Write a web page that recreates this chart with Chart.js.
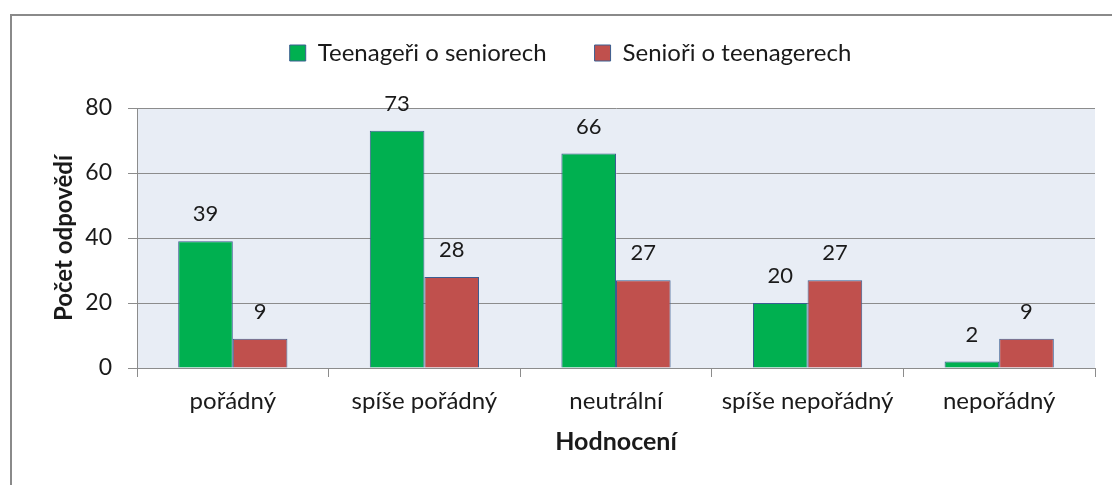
<!DOCTYPE html>
<html>
<head>
<meta charset="utf-8">
<script src="https://cdn.jsdelivr.net/npm/chart.js@4.4.1/dist/chart.umd.min.js"></script>
<style>
  html, body { margin:0; padding:0; background:#fff; overflow:hidden; width:1112px; height:485px; }
  #frame { position:absolute; left:10px; top:14px; width:1200px; height:600px; border:2px solid #8a8a8a; box-sizing:border-box; }
  #wrap { position:absolute; left:0; top:0; width:1112px; height:485px; }
</style>
</head>
<body>
<div id="frame"></div>
<div id="wrap"><canvas id="c" width="1112" height="485"></canvas></div>
<script>
const categories = ['pořádný', 'spíše pořádný', 'neutrální', 'spíše nepořádný', 'nepořádný'];
const teenSeries = [39, 73, 66, 20, 2];
const seniorSeries = [9, 28, 27, 27, 9];
const seriesNames = ['Teenageři o seniorech', 'Senioři o teenagerech'];
const yTicks = [0, 20, 40, 60, 80];

const FONT = 'Lato, "Open Sans", sans-serif';
const TXT = '#1a1a1a';

const plotBg = {
  id: 'plotBg',
  beforeDraw(chart) {
    const a = chart.chartArea, ctx = chart.ctx;
    ctx.save();
    ctx.fillStyle = '#e8edf5';
    ctx.fillRect(a.left, a.top, a.right - a.left, a.bottom - a.top);
    ctx.restore();
  }
};

const legendFit = {
  id: 'legendFit',
  beforeInit(chart) {
    const lg = chart.legend;
    const orig = lg.fit;
    lg.fit = function () { orig.call(this); this.height = 108; };
  },
  afterLayout(chart) {
    const lg = chart.legend;
    lg.left += 23; lg.right += 23;
    lg.top -= 7; lg.bottom -= 7;
  }
};

const valueLabels = {
  id: 'valueLabels',
  afterDatasetsDraw(chart) {
    const ctx = chart.ctx;
    ctx.save();
    ctx.font = '22px ' + FONT;
    ctx.fillStyle = TXT;
    ctx.textAlign = 'center';
    ctx.textBaseline = 'middle';
    chart.data.datasets.forEach((ds, i) => {
      chart.getDatasetMeta(i).data.forEach((bar, j) => {
        ctx.fillText(String(ds.data[j]), bar.x, bar.y - 27);
      });
    });
    ctx.restore();
  }
};

new Chart(document.getElementById('c'), {
  type: 'bar',
  data: {
    labels: categories,
    datasets: [
      { label: seriesNames[0], data: teenSeries, backgroundColor: '#00b050', borderColor: '#3b5e91', borderWidth: 1 },
      { label: seriesNames[1], data: seniorSeries, backgroundColor: '#c0504d', borderColor: '#3b5e91', borderWidth: 1 }
    ]
  },
  options: {
    responsive: false,
    animation: false,
    devicePixelRatio: 1,
    layout: { padding: { left: 0, right: 17, top: 0, bottom: 0 } },
    datasets: { bar: { categoryPercentage: 0.57, barPercentage: 1.0 } },
    plugins: {
      legend: {
        position: 'top',
        labels: {
          font: { family: FONT, size: 24 },
          color: TXT,
          boxWidth: 16,
          boxHeight: 16,
          padding: 48
        }
      },
      tooltip: { enabled: false }
    },
    scales: {
      x: {
        offset: true,
        grid: { display: true, offset: true, drawOnChartArea: false, drawTicks: true, tickLength: 9, color: '#8c8c8c' },
        border: { color: '#8c8c8c' },
        ticks: { font: { family: FONT, size: 24 }, color: TXT, padding: 10, maxRotation: 0 },
        title: { display: true, text: 'Hodnocení', font: { family: FONT, size: 25, weight: 'bold' }, color: TXT, padding: { top: 0, bottom: 28 } },
        afterFit(s) { s.height = 117; }
      },
      y: {
        min: 0, max: 80,
        afterBuildTicks(s) { s.ticks = yTicks.map(v => ({ value: v })); },
        grid: { color: '#8c8c8c', tickLength: 9 },
        border: { color: '#8c8c8c' },
        ticks: { font: { family: FONT, size: 23 }, color: TXT, padding: 16 },
        title: { display: true, text: 'Počet odpovědí', font: { family: FONT, size: 24, weight: 'bold' }, color: TXT, padding: { top: 50, bottom: 0 } },
        afterFit(s) { s.width = 137; }
      }
    }
  },
  plugins: [plotBg, legendFit, valueLabels]
});
</script>
</body>
</html>
